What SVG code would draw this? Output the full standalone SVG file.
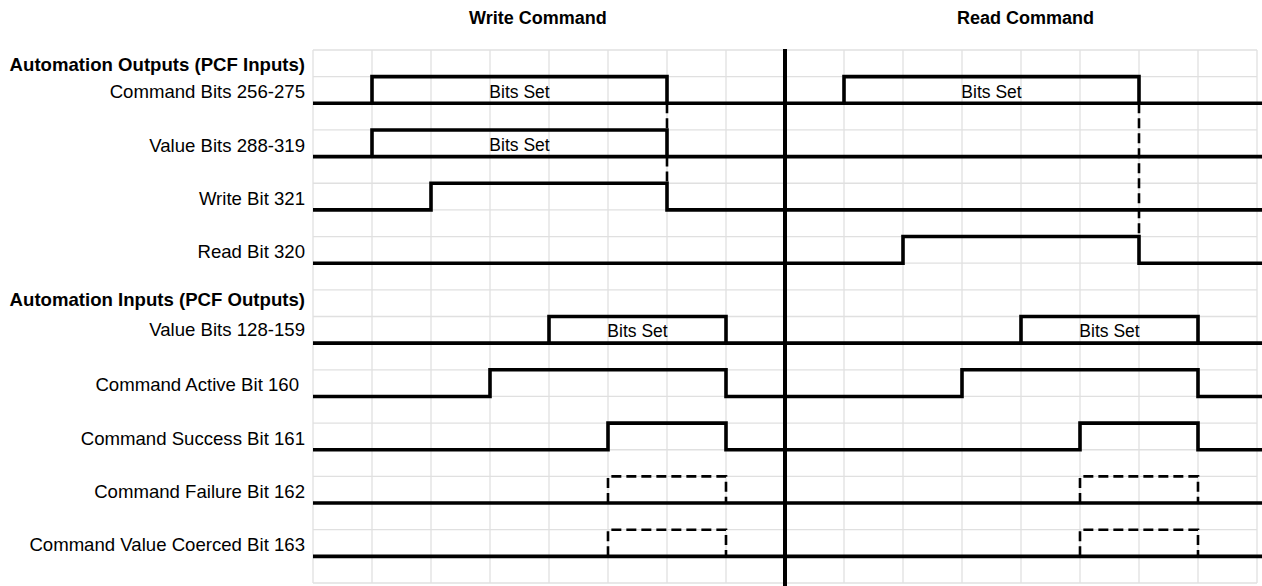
<svg xmlns="http://www.w3.org/2000/svg" width="1262" height="586" viewBox="0 0 1262 586">
<style>
.bg{fill:#ffffff}
.grid line{stroke:#e0e0e0;stroke-width:1.3}
.sig{fill:none;stroke:#000;stroke-width:3.6;stroke-linejoin:miter;stroke-linecap:butt}
.dash{fill:none;stroke:#000;stroke-width:2.6;stroke-dasharray:10 5}
.div{stroke:#000;stroke-width:4}
.lbl{font-family:"Liberation Sans",Arial,Helvetica,sans-serif;font-size:18.6px;fill:#000;text-anchor:end}
.hdr{font-family:"Liberation Sans",Arial,Helvetica,sans-serif;font-size:18.6px;font-weight:bold;fill:#000;text-anchor:end}
.ttl{font-family:"Liberation Sans",Arial,Helvetica,sans-serif;font-size:18px;font-weight:bold;fill:#000}
.bits{font-family:"Liberation Sans",Arial,Helvetica,sans-serif;font-size:17.5px;fill:#000;text-anchor:middle}
</style>
<rect class="bg" x="0" y="0" width="1262" height="586"/>
<g id="grid" class="grid">
<line x1="313" y1="50" x2="1257" y2="50"/>
<line x1="313" y1="76.65" x2="1257" y2="76.65"/>
<line x1="313" y1="103.3" x2="1257" y2="103.3"/>
<line x1="313" y1="129.95" x2="1257" y2="129.95"/>
<line x1="313" y1="156.6" x2="1257" y2="156.6"/>
<line x1="313" y1="183.25" x2="1257" y2="183.25"/>
<line x1="313" y1="209.9" x2="1257" y2="209.9"/>
<line x1="313" y1="236.55" x2="1257" y2="236.55"/>
<line x1="313" y1="263.2" x2="1257" y2="263.2"/>
<line x1="313" y1="289.85" x2="1257" y2="289.85"/>
<line x1="313" y1="316.5" x2="1257" y2="316.5"/>
<line x1="313" y1="343.15" x2="1257" y2="343.15"/>
<line x1="313" y1="369.8" x2="1257" y2="369.8"/>
<line x1="313" y1="396.45" x2="1257" y2="396.45"/>
<line x1="313" y1="423.1" x2="1257" y2="423.1"/>
<line x1="313" y1="449.75" x2="1257" y2="449.75"/>
<line x1="313" y1="476.4" x2="1257" y2="476.4"/>
<line x1="313" y1="503.05" x2="1257" y2="503.05"/>
<line x1="313" y1="529.7" x2="1257" y2="529.7"/>
<line x1="313" y1="556.35" x2="1257" y2="556.35"/>
<line x1="313" y1="583" x2="1257" y2="583"/>
<line x1="313" y1="50" x2="313" y2="583"/>
<line x1="372" y1="50" x2="372" y2="583"/>
<line x1="431" y1="50" x2="431" y2="583"/>
<line x1="490" y1="50" x2="490" y2="583"/>
<line x1="549" y1="50" x2="549" y2="583"/>
<line x1="608" y1="50" x2="608" y2="583"/>
<line x1="667" y1="50" x2="667" y2="583"/>
<line x1="726" y1="50" x2="726" y2="583"/>
<line x1="785" y1="50" x2="785" y2="583"/>
<line x1="844" y1="50" x2="844" y2="583"/>
<line x1="903" y1="50" x2="903" y2="583"/>
<line x1="962" y1="50" x2="962" y2="583"/>
<line x1="1021" y1="50" x2="1021" y2="583"/>
<line x1="1080" y1="50" x2="1080" y2="583"/>
<line x1="1139" y1="50" x2="1139" y2="583"/>
<line x1="1198" y1="50" x2="1198" y2="583"/>
<line x1="1257" y1="50" x2="1257" y2="583"/>
</g>
<g id="titles">
<text class="ttl" x="469" y="24">Write Command</text>
<text class="ttl" x="957" y="24">Read Command</text>
</g>
<g id="hdr-outputs"><text class="hdr" x="305" y="71">Automation Outputs (PCF Inputs)</text></g>
<g id="hdr-inputs"><text class="hdr" x="305" y="306">Automation Inputs (PCF Outputs)</text></g>
<g id="sig-command-bits">
<text class="lbl" x="305" y="98.3">Command Bits 256-275</text>
<path class="sig" d="M313,103.3 H1262 M372,103.3 V76.65 H667 V103.3 M844,103.3 V76.65 H1139 V103.3"/>
<text class="bits" x="519.5" y="97.5">Bits Set</text>
<text class="bits" x="991.5" y="97.5">Bits Set</text>
</g>
<g id="sig-value-bits-out">
<text class="lbl" x="305" y="151.7">Value Bits 288-319</text>
<path class="sig" d="M313,156.6 H1262 M372,156.6 V129.95 H667 V156.6"/>
<text class="bits" x="519.5" y="150.5">Bits Set</text>
</g>
<g id="sig-write-bit">
<text class="lbl" x="305" y="205">Write Bit 321</text>
<path class="sig" d="M313,209.9 H431 V183.25 H667 V209.9 H1262"/>
</g>
<g id="sig-read-bit">
<text class="lbl" x="305" y="258.3">Read Bit 320</text>
<path class="sig" d="M313,263.2 H903 V236.55 H1139 V263.2 H1262"/>
</g>
<g id="sig-value-bits-in">
<text class="lbl" x="305" y="336">Value Bits 128-159</text>
<path class="sig" d="M313,343.15 H1262 M549,343.15 V316.5 H726 V343.15 M1021,343.15 V316.5 H1198 V343.15"/>
<text class="bits" x="637.5" y="337">Bits Set</text>
<text class="bits" x="1109.5" y="337">Bits Set</text>
</g>
<g id="sig-command-active">
<text class="lbl" x="299" y="391">Command Active Bit 160</text>
<path class="sig" d="M313,396.45 H490 V369.8 H726 V396.45 H962 V369.8 H1198 V396.45 H1262"/>
</g>
<g id="sig-command-success">
<text class="lbl" x="305" y="444.5">Command Success Bit 161</text>
<path class="sig" d="M313,449.75 H608 V423.1 H726 V449.75 H1080 V423.1 H1198 V449.75 H1262"/>
</g>
<g id="sig-command-failure">
<text class="lbl" x="305" y="497.8">Command Failure Bit 162</text>
<path class="sig" d="M313,503.05 H1262"/>
<path class="dash" d="M608,503.05 V476.4 H726 V503.05 M1080,503.05 V476.4 H1198 V503.05"/>
</g>
<g id="sig-command-coerced">
<text class="lbl" x="305" y="551">Command Value Coerced Bit 163</text>
<path class="sig" d="M313,556.35 H1262"/>
<path class="dash" d="M608,556.35 V529.7 H726 V556.35 M1080,556.35 V529.7 H1198 V556.35"/>
</g>
<g id="connectors">
<path class="dash" d="M667,103.3 V129.95 M667,156.6 V183.25 M1139,103.3 V236.55"/>
</g>
<line id="divider" class="div" x1="785" y1="49" x2="785" y2="586"/>
</svg>
